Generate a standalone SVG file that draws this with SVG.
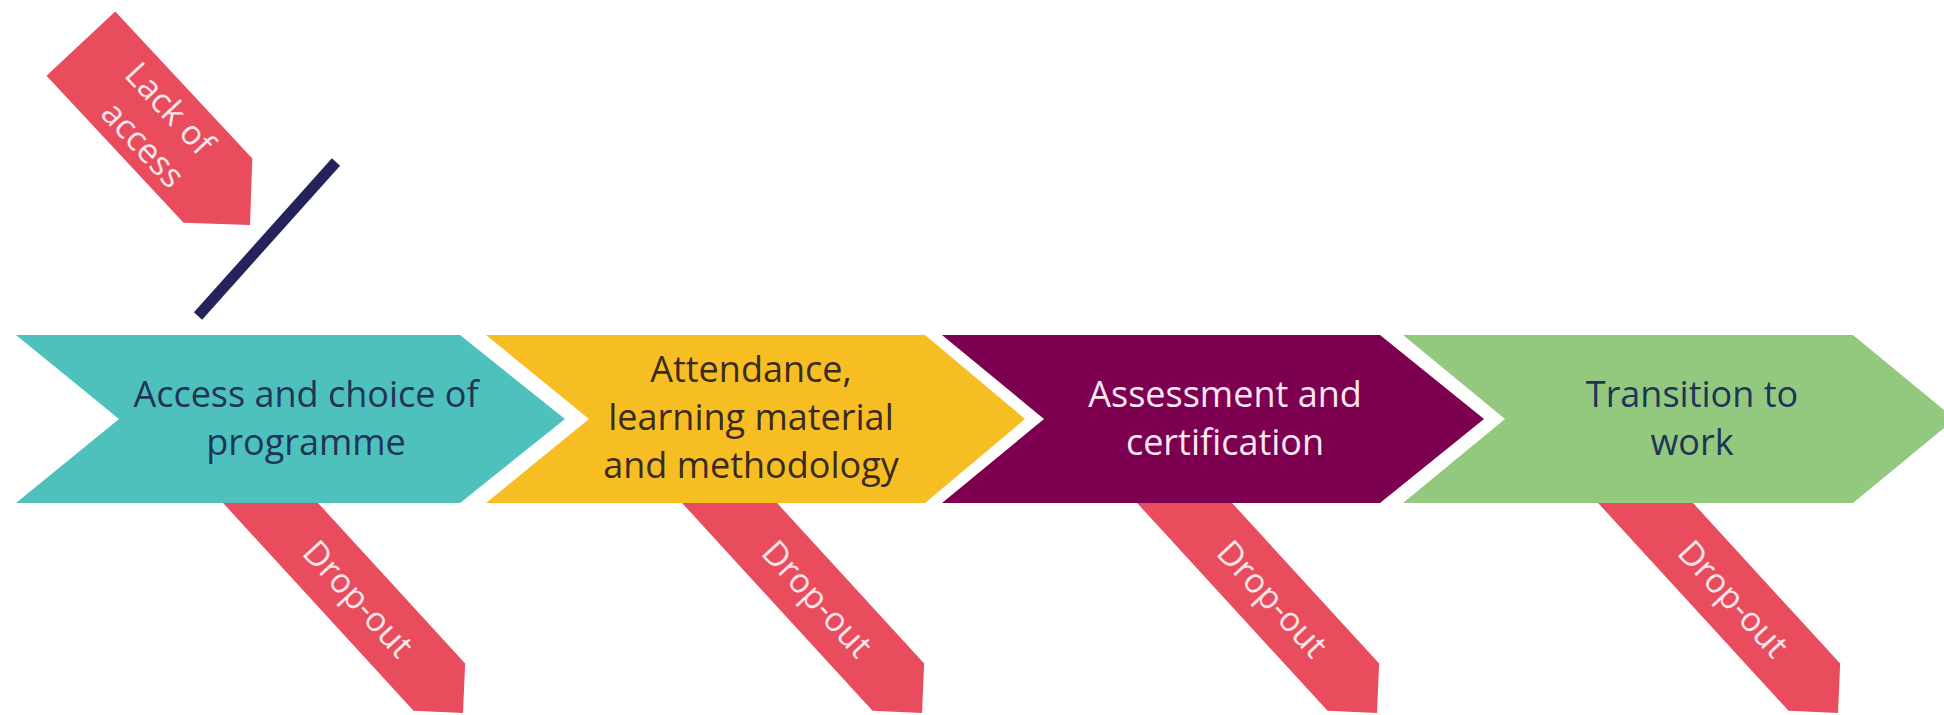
<svg xmlns="http://www.w3.org/2000/svg" xmlns:xlink="http://www.w3.org/1999/xlink" width="1944" height="715" viewBox="0 0 1944 715">
  <style>
    .bg { fill: #ffffff; }
    .red { fill: #E94C5D; }
    .chev-text { font-family: "Open Sans", "Noto Sans", sans-serif; font-size: 36px; text-anchor: middle; }
    .ban-text { font-family: "Open Sans", "Noto Sans", sans-serif; font-size: 34px; text-anchor: middle; fill: #FDE6EA; }
    .teal { fill: #4EC1BC; }
    .yellow { fill: #F7BE23; }
    .purple { fill: #7C004F; }
    .green { fill: #93C97F; }
    .dark-navy { fill: #1F3558; }
    .dark-brown { fill: #3A2A20; }
    .light { fill: #FBE8F2; }
    .bar { stroke: #24235C; stroke-width: 11; fill: none; }
  </style>
  <defs>
    <polygon id="dropShape" points="0,0 -35,35 -340,35 -340,-35 -35,-35"/>
  </defs>
  <rect class="bg" x="0" y="0" width="1944" height="715"/>

  <!-- drop-out banners (behind the chevrons) -->
  <g id="dropout-1" transform="translate(463,713) rotate(47.5)">
    <use xlink:href="#dropShape" class="red"/>
    <text class="ban-text" x="-155" y="12">Drop-out</text>
  </g>
  <g id="dropout-2" transform="translate(922,713) rotate(47.5)">
    <use xlink:href="#dropShape" class="red"/>
    <text class="ban-text" x="-155" y="12">Drop-out</text>
  </g>
  <g id="dropout-3" transform="translate(1377,713) rotate(47.5)">
    <use xlink:href="#dropShape" class="red"/>
    <text class="ban-text" x="-155" y="12">Drop-out</text>
  </g>
  <g id="dropout-4" transform="translate(1838,713) rotate(47.5)">
    <use xlink:href="#dropShape" class="red"/>
    <text class="ban-text" x="-155" y="12">Drop-out</text>
  </g>

  <!-- process chevrons -->
  <g id="step-access">
    <polygon class="teal" points="16,335 460,335 565,419 460,503 16,503 119,419"/>
    <text class="chev-text dark-navy" x="306" y="407">Access and choice of</text>
    <text class="chev-text dark-navy" x="306" y="455">programme</text>
  </g>
  <g id="step-attendance">
    <polygon class="yellow" points="486,335 925,335 1025,419 925,503 486,503 589,419"/>
    <text class="chev-text dark-brown" x="751" y="382">Attendance,</text>
    <text class="chev-text dark-brown" x="751" y="430">learning material</text>
    <text class="chev-text dark-brown" x="751" y="478">and methodology</text>
  </g>
  <g id="step-assessment">
    <polygon class="purple" points="942,335 1380,335 1484,419 1380,503 942,503 1044,419"/>
    <text class="chev-text light" x="1225" y="407">Assessment and</text>
    <text class="chev-text light" x="1225" y="455">certification</text>
  </g>
  <g id="step-transition">
    <polygon class="green" points="1403,335 1853,335 1955,419 1853,503 1403,503 1505,419"/>
    <text class="chev-text dark-navy" x="1692" y="407">Transition to</text>
    <text class="chev-text dark-navy" x="1692" y="455">work</text>
  </g>

  <!-- lack of access banner -->
  <g id="lack-of-access" transform="translate(250,225) rotate(47)">
    <polygon class="red" points="0,0 -47,47 -248,47 -248,-47 -47,-47"/>
    <text class="ban-text" x="-140" y="-9">Lack of</text>
    <text class="ban-text" x="-132" y="35">access</text>
  </g>

  <!-- barrier bar -->
  <g id="connectors">
    <line id="barrier" class="bar" x1="336" y1="162" x2="198" y2="316"/>
  </g>
</svg>
